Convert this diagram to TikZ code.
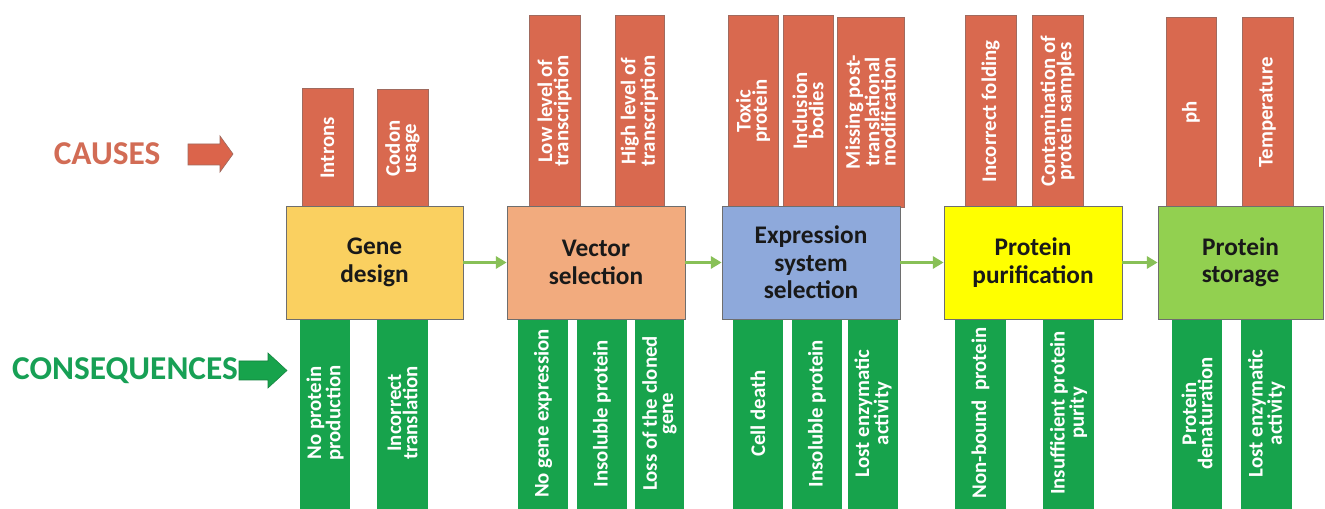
\documentclass[tikz,border=0pt]{standalone}
\usepackage{fontspec}
\setmainfont{Carlito}
\usetikzlibrary{arrows.meta}
\definecolor{causered}{HTML}{D9694F}
\definecolor{causeedge}{HTML}{A06A5E}
\definecolor{causetext}{HTML}{D26C55}
\definecolor{consgreen}{HTML}{17A34C}
\definecolor{constext}{HTML}{17A055}
\definecolor{genefill}{HTML}{FAD060}
\definecolor{vectfill}{HTML}{F2AB7E}
\definecolor{exprfill}{HTML}{8EA9DB}
\definecolor{purifill}{HTML}{FFFF00}
\definecolor{storfill}{HTML}{92D050}
\definecolor{flowgreen}{HTML}{88C057}
\definecolor{boxedge}{HTML}{6E6E6E}
\newcommand\causebar[6]{\node[causestyle, minimum width={0.75pt*(#5-#4)}, minimum height={0.75pt*(#3-#2)}] (#1) at ({(#2+#3)/2},{(#4+#5)/2}) {#6};}
\newcommand\consbar[6]{\node[consstyle, minimum width={0.75pt*(#5-#4)}, minimum height={0.75pt*(#3-#2)}] (#1) at ({(#2+#3)/2},{(#4+#5)/2}) {#6};}
\newcommand\stagebox[7]{\node[stagestyle, fill=#7, minimum width={0.75pt*(#3-#2)}, minimum height={0.75pt*(#5-#4)}] (#1) at ({(#2+#3)/2},{(#4+#5)/2}) {#6};}
\begin{document}
\begin{tikzpicture}[x=0.75pt,y=-0.75pt,
  causestyle/.style={rectangle, rotate=90, fill=causered, draw=causeedge, line width=0.5pt, inner sep=0pt, align=center, text=white, font=\fontsize{15.6}{12.2}\selectfont\bfseries},
  consstyle/.style={rectangle, rotate=90, fill=consgreen, draw=none, inner sep=0pt, align=center, text=white, font=\fontsize{15.6}{12.2}\selectfont\bfseries},
  stagestyle/.style={rectangle, draw=boxedge, line width=0.6pt, inner sep=0pt, align=center, text=black!90, font=\fontsize{19}{20.5}\selectfont\bfseries},
  flow/.style={draw=flowgreen, line width=2.6pt, -{Triangle[length=8pt,width=9pt]}},
  label/.style={font=\fontsize{25}{28}\selectfont\bfseries}
]
\useasboundingbox (0,0) rectangle (1325,509);
\fill[white] (0,0) rectangle (1325,509);

% labels
\node[label, text=causetext] (causes) at (107,154) {CAUSES};
\node[label, text=constext] (consequences) at (125,371) {CONSEQUENCES};
\filldraw[fill=causered!95!red, draw=causeedge, line width=0.5pt]
  (188,144) -- (220,144) -- (220,136) -- (233,154) -- (220,172) -- (220,165) -- (188,165) -- cycle;
\filldraw[fill=consgreen, draw=consgreen!80!black, line width=0.4pt]
  (239,361) -- (268,361) -- (268,353) -- (287,370.5) -- (268,388) -- (268,380) -- (239,380) -- cycle;

% causes
\causebar{c11}{302}{353}{88}{208}{Introns}
\causebar{c12}{377}{428}{89}{208}{Codon\\usage}
\causebar{c21}{529}{580}{15}{207}{Low level of\\transcription}
\causebar{c22}{615}{664}{15}{207}{High level of\\transcription}
\causebar{c31}{728}{778}{15}{207}{Toxic\\protein}
\causebar{c32}{783}{833}{15}{207}{Inclusion\\bodies}
\causebar{c33}{837}{904}{17}{207}{Missing post-\\translational\\modification}
\causebar{c41}{965}{1016}{15}{208}{Incorrect folding}
\causebar{c42}{1032}{1083}{15}{208}{Contamination of\\protein samples}
\causebar{c51}{1166}{1216}{17}{208}{ph}
\causebar{c52}{1242}{1293}{17}{208}{Temperature}

% consequences
\consbar{q11}{300}{350}{317}{509}{No protein\\production}
\consbar{q12}{377}{428}{317}{509}{Incorrect\\translation}
\consbar{q21}{518}{568}{318}{509}{No gene expression}
\consbar{q22}{577}{627}{318}{509}{Insoluble protein}
\consbar{q23}{635}{684}{318}{509}{Loss of the cloned\\gene}
\consbar{q31}{733}{783}{318}{509}{Cell death}
\consbar{q32}{792}{842}{318}{509}{Insoluble protein}
\consbar{q33}{848}{898}{318}{509}{Lost enzymatic\\activity}
\consbar{q41}{955}{1006}{317}{509}{Non-bound\ \ protein}
\consbar{q42}{1043}{1094}{317}{509}{Insufficient protein\\purity}
\consbar{q51}{1172}{1222}{318}{509}{Protein\\denaturation}
\consbar{q52}{1241}{1292}{318}{509}{Lost enzymatic\\activity}

% stages
\stagebox{s1}{286}{463}{206}{319}{Gene\\design}{genefill}
\stagebox{s2}{507}{685}{206}{319}{Vector\\selection}{vectfill}
\stagebox{s3}{722}{900}{206}{319}{Expression\\system\\selection}{exprfill}
\stagebox{s4}{944}{1122}{206}{319}{Protein\\purification}{purifill}
\stagebox{s5}{1158}{1323}{206}{319}{Protein\\storage}{storfill}

\draw[flow] (s1.east) -- (s2.west);
\draw[flow] (s2.east) -- (s3.west);
\draw[flow] (s3.east) -- (s4.west);
\draw[flow] (s4.east) -- (s5.west);
\end{tikzpicture}
\end{document}
